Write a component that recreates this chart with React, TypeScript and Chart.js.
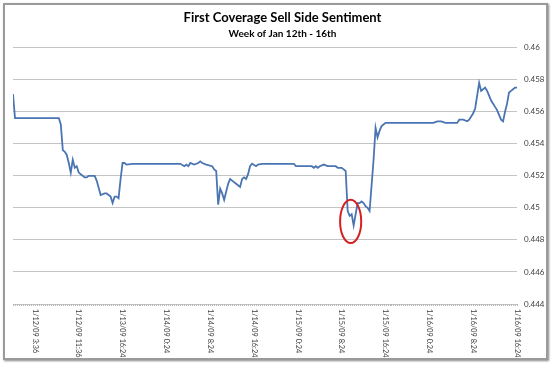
import React, { useEffect, useRef } from "react";
import { Chart, registerables } from "chart.js";

Chart.register(...registerables);

// sample index along the week (uniform sampling) and sentiment value at each vertex
const sampleIdx = [
  0, 1, 23, 24, 25, 26, 27, 28, 29, 30, 31, 32, 33, 34, 36, 37, 38, 41, 42, 44, 46, 47, 49, 50, 51, 52, 53,
  54, 55, 56, 57, 60, 84, 86, 87, 88, 89, 91, 93, 94, 95, 97, 100, 101, 102, 103, 104, 105, 106, 107, 108,
  109, 110, 112, 114, 115, 116, 117, 118, 119, 120, 122, 123, 125, 141, 142, 150, 151, 152, 153, 154, 156,
  158, 162, 163, 165, 166, 167, 168, 169, 170, 171, 172, 173, 174, 175, 176, 177, 178, 179, 181, 182, 183,
  184, 185, 186, 187, 211, 213, 215, 217, 223, 224, 226, 228, 229, 230, 231, 232, 233, 234, 235, 236, 237,
  238, 239, 240, 241, 242, 243, 244, 245, 246, 247, 248, 249, 250, 251, 252, 253,
];
const sentiment = [
  0.4571, 0.4556, 0.4556, 0.4552, 0.4536, 0.4535, 0.4533, 0.4528, 0.4522, 0.453, 0.4525, 0.4526, 0.4522,
  0.4521, 0.4519, 0.4519, 0.452, 0.452, 0.4517, 0.4508, 0.4509, 0.4509, 0.4507, 0.4503, 0.4507, 0.4507,
  0.4506, 0.4518, 0.4528, 0.4528, 0.4527, 0.45275, 0.45275, 0.4526, 0.4527, 0.4526, 0.4528, 0.4527, 0.4528,
  0.4529, 0.4528, 0.4527, 0.4526, 0.4524, 0.4523, 0.4502, 0.4512, 0.4509, 0.4505, 0.451, 0.4515, 0.4518,
  0.4517, 0.4515, 0.4513, 0.4518, 0.4519, 0.4518, 0.4521, 0.4526, 0.45275, 0.4526, 0.4527, 0.45275, 0.45275,
  0.4526, 0.4526, 0.4525, 0.4526, 0.4525, 0.4526, 0.4527, 0.4526, 0.4526, 0.4525, 0.4525, 0.4524, 0.4523,
  0.4498, 0.4495, 0.4496, 0.4489, 0.4496, 0.4503, 0.4503, 0.4504, 0.4503, 0.4501, 0.45, 0.4498, 0.453, 0.455,
  0.4544, 0.4548, 0.4551, 0.4552, 0.4553, 0.4553, 0.4554, 0.4554, 0.4553, 0.4553, 0.4555, 0.4555, 0.4554,
  0.4555, 0.4557, 0.4559, 0.4562, 0.457, 0.4578, 0.4573, 0.4574, 0.4575, 0.4573, 0.457, 0.4567, 0.4565,
  0.4563, 0.4561, 0.4558, 0.4555, 0.4554, 0.456, 0.4565, 0.4572, 0.4573, 0.4574, 0.4575, 0.4575,
];

const sampleCount = 254;
const firstTickIdx = 11;
const tickEvery = 22;
const tickLabels = [
  "1/12/09 3:36",
  "1/12/09 11:36",
  "1/13/09 16:24",
  "1/14/09 0:24",
  "1/14/09 8:24",
  "1/14/09 16:24",
  "1/15/09 0:24",
  "1/15/09 8:24",
  "1/15/09 16:24",
  "1/16/09 0:24",
  "1/16/09 8:24",
  "1/16/09 16:24",
];

const yMin = 0.444;
const yMax = 0.46;
const yStep = 0.002;

// highlighted dip (data units)
const highlightCenter = { x: 169.5, y: 0.44915 };
const highlightHalf = { x: 5.3, y: 0.00135 };

const FONT = "Lato, 'Open Sans', sans-serif";

export default function App() {
  const ref = useRef<HTMLCanvasElement | null>(null);

  useEffect(() => {
    if (!ref.current) return;

    const xLabelsPlugin = {
      id: "xLabels",
      afterDraw(chart: any) {
        const { ctx, chartArea } = chart;
        const xs = chart.scales.x;
        ctx.save();
        // dense category tick marks along the axis
        ctx.strokeStyle = "#b8b8b8";
        ctx.lineWidth = 1;
        ctx.beginPath();
        for (let i = 0; i < sampleCount; i++) {
          const px = Math.round(xs.getPixelForValue(i)) + 0.5;
          ctx.moveTo(px, chartArea.bottom);
          ctx.lineTo(px, chartArea.bottom + 2);
        }
        ctx.stroke();
        // rotated labels reading top-to-bottom
        ctx.fillStyle = "#404040";
        ctx.font = `7.3px ${FONT}`;
        ctx.textAlign = "left";
        ctx.textBaseline = "middle";
        tickLabels.forEach((lab, i) => {
          const px = xs.getPixelForValue(firstTickIdx + i * tickEvery);
          ctx.save();
          ctx.translate(px, chartArea.bottom + 5);
          ctx.rotate(Math.PI / 2);
          ctx.fillText(lab, 0, 0);
          ctx.restore();
        });
        // red highlight ellipse
        const cx = xs.getPixelForValue(highlightCenter.x);
        const cy = chart.scales.y.getPixelForValue(highlightCenter.y);
        const rx = Math.abs(xs.getPixelForValue(highlightCenter.x + highlightHalf.x) - cx);
        const ry = Math.abs(chart.scales.y.getPixelForValue(highlightCenter.y + highlightHalf.y) - cy);
        ctx.strokeStyle = "#d42020";
        ctx.lineWidth = 2;
        ctx.beginPath();
        ctx.ellipse(cx, cy, rx, ry, 0, 0, Math.PI * 2);
        ctx.stroke();
        ctx.restore();
      },
    };

    const chart = new Chart(ref.current, {
      type: "line",
      data: {
        datasets: [
          {
            data: sampleIdx.map((x, i) => ({ x, y: sentiment[i] })),
            borderColor: "#4a75b2",
            borderWidth: 1.8,
            pointRadius: 0,
            tension: 0,
            fill: false,
          },
        ],
      },
      options: {
        animation: false,
        responsive: false,
        devicePixelRatio: 1,
        layout: { padding: { left: 13, right: 0, top: 6, bottom: 0 } },
        plugins: {
          legend: { display: false },
          tooltip: { enabled: false },
          title: {
            display: true,
            text: "First Coverage Sell Side Sentiment",
            color: "#000",
            font: { family: FONT, size: 13, weight: "bold" },
            padding: { top: 4, bottom: 1 },
          },
          subtitle: {
            display: true,
            text: "Week of Jan 12th - 16th",
            color: "#000",
            font: { family: FONT, size: 10, weight: "bold" },
            padding: { top: 1, bottom: 8 },
          },
        },
        scales: {
          x: {
            type: "linear",
            min: 0,
            max: sampleCount - 1,
            grid: { display: false },
            border: { display: false },
            ticks: { display: false },
            afterFit(scale: any) {
              scale.height = 62;
            },
          },
          y: {
            position: "right",
            min: yMin,
            max: yMax,
            grid: { color: "#c4c4c4", lineWidth: 1, drawTicks: false },
            border: { display: false },
            ticks: {
              stepSize: yStep,
              padding: 7,
              color: "#404040",
              font: { family: FONT, size: 8 },
              callback: (v: any) => String(Number(Number(v).toFixed(3))),
            },
            afterFit(scale: any) {
              scale.width = 35;
            },
          },
        },
      },
      plugins: [xLabelsPlugin],
    });

    return () => chart.destroy();
  }, []);

  return (
    <div style={{ position: "fixed", left: 0, top: 0, width: 552, height: 366, background: "#fff" }}>
      <canvas ref={ref} width={552} height={366} style={{ position: "absolute", left: 0, top: 0 }} />
      <div
        style={{
          position: "absolute",
          left: 3,
          top: 3,
          width: 541,
          height: 353,
          border: "2px solid #9a9a9a",
          boxShadow: "1px 1px 2px #888",
          pointerEvents: "none",
        }}
      />
    </div>
  );
}
